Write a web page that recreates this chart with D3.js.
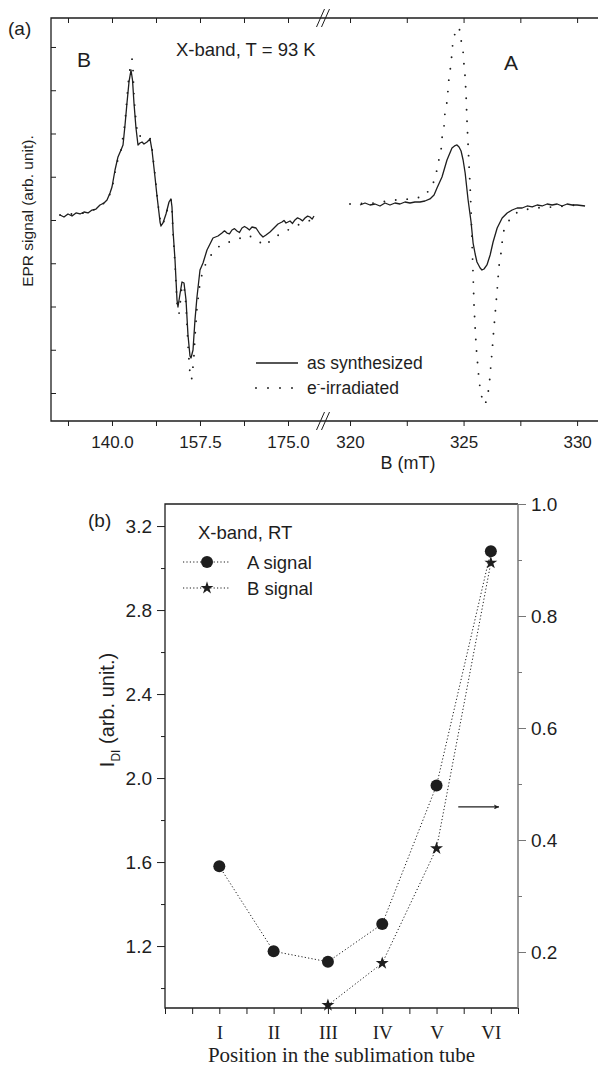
<!DOCTYPE html>
<html>
<head>
<meta charset="utf-8">
<script src="https://cdn.jsdelivr.net/npm/d3@7"></script>
<style>
  body { margin: 0; background: #fff; }
  svg { display: block; font-family: "Liberation Sans", Arial, sans-serif; }
</style>
</head>
<body>
<div id="chart"></div>
<script>
// ---- data: panel (a), EPR spectra (B in mT, signal in arb. units) ----
const fieldLoSynth = [129.66,130.45,131.25,132.05,132.84,133.64,134.43,135.23,136.02,136.82,137.61,138.41,139.01,139.60,140.00,140.60,141.19,141.79,142.19,142.59,142.98,143.38,143.78,144.08,144.37,144.77,145.17,145.57,145.97,146.36,146.96,147.56,147.95,148.55,148.95,149.35,149.55,149.74,150.14,150.74,151.34,151.73,151.93,152.13,152.53,152.93,153.12,153.52,153.92,154.32,154.72,155.11,155.51,155.71,156.11,156.50,156.90,157.50,158.10,158.89,159.49,160.08,161.08,161.87,162.37,162.87,163.36,163.86,164.36,164.86,165.35,165.85,166.35,166.85,167.34,167.84,168.64,169.43,170.03,170.63,171.42,172.22,173.01,173.81,174.20,174.60,175.40,175.90,176.39,176.90,177.39,177.90,178.38,178.90,179.37,179.80,180.17];
const signalLoSynth = [1.16,0.69,1.39,0.92,1.62,1.39,1.85,1.62,2.31,2.54,3.47,3.93,4.62,6.24,7.63,11.56,14.57,16.18,17.34,21.96,27.05,31.91,34.68,32.37,27.05,21.27,17.34,17.80,18.03,17.57,18.03,18.73,16.18,9.94,5.55,1.62,-0.46,-1.39,-0.69,1.39,4.16,4.86,3.01,-2.31,-9.25,-18.50,-20.11,-17.11,-14.33,-14.57,-18.50,-26.59,-31.44,-31.91,-30.06,-23.12,-17.80,-11.56,-9.94,-6.94,-5.55,-4.16,-3.70,-3.01,-2.50,-3.01,-3.20,-2.31,-2.00,-2.54,-2.90,-1.85,-1.50,-1.85,-2.30,-1.62,-1.85,-3.24,-3.93,-3.47,-2.77,-1.85,-0.92,-0.46,-0.10,-0.69,-0.23,-0.80,0.00,0.50,0.23,-0.20,0.46,0.90,0.69,0.20,0.92];

const fieldLoIrr = [129.66,131.25,132.84,134.43,136.02,137.61,139.01,140.00,140.60,141.19,141.79,142.59,142.98,143.38,143.78,143.98,144.18,144.37,144.77,145.17,145.57,145.97,146.36,146.96,147.56,147.95,148.55,148.95,149.35,149.74,150.14,150.74,151.34,151.73,151.93,152.13,152.53,152.93,153.32,153.72,153.92,154.32,154.72,155.11,155.51,155.71,155.91,156.31,156.50,156.90,157.50,158.10,159.09,160.48,161.87,164.06,167.04,168.83,170.43,172.02,175.00,177.39,180.17];
const signalLoIrr = [1.16,1.39,1.39,1.62,2.08,3.24,4.39,7.17,11.10,14.10,16.18,22.43,28.21,33.52,36.30,37.23,34.68,28.67,22.66,19.19,19.42,19.65,19.65,19.19,18.96,16.65,10.40,5.78,1.85,-1.16,-0.92,1.16,3.93,4.62,2.77,-2.77,-10.17,-19.19,-21.73,-17.57,-15.03,-15.26,-19.65,-28.90,-35.61,-37.00,-36.53,-31.21,-27.00,-20.30,-14.57,-11.56,-9.02,-6.94,-5.55,-4.86,-3.47,-4.62,-6.01,-4.16,-2.31,-0.92,0.23];

const fieldHiSynth = [320.44,320.66,320.88,321.10,321.32,321.54,321.76,321.98,322.20,322.42,322.64,322.86,323.08,323.30,323.52,323.70,323.83,324.05,324.27,324.49,324.63,324.71,324.80,324.89,324.98,325.07,325.20,325.33,325.42,325.51,325.59,325.73,325.81,325.90,326.03,326.17,326.30,326.48,326.70,326.92,327.14,327.36,327.58,327.80,328.02,328.24,328.46,328.68,328.90,329.12,329.34,329.56,329.78,330.00,330.35];
const signalHiSynth = [3.47,3.93,3.47,3.70,3.24,3.93,3.47,3.93,3.70,4.16,3.93,4.16,4.16,4.39,4.86,5.78,7.40,9.94,13.87,16.65,17.22,17.34,16.88,15.95,13.87,10.87,4.62,-0.46,-5.32,-7.86,-9.71,-11.10,-11.56,-11.33,-10.40,-8.09,-5.09,-1.85,0.46,1.62,2.31,2.77,2.77,3.24,3.01,3.47,3.24,3.70,3.47,3.70,3.24,3.70,3.47,3.47,3.24];

const fieldHiIrr = [320.00,321.10,321.89,322.33,322.78,323.22,323.61,323.79,323.88,324.01,324.05,324.14,324.18,324.27,324.32,324.36,324.45,324.49,324.54,324.67,324.76,324.85,324.89,324.98,325.02,325.07,325.11,325.15,325.20,325.24,325.29,325.33,325.37,325.42,325.46,325.51,325.55,325.59,325.64,325.68,325.77,325.86,325.95,326.03,326.12,326.17,326.21,326.26,326.30,326.39,326.48,326.56,326.65,326.70,326.78,326.92,327.14,327.49,328.06,328.94,330.00];
const signalHiIrr = [3.70,3.93,4.62,4.62,5.09,5.32,7.63,10.64,13.18,16.18,18.96,21.73,24.74,27.28,30.29,33.06,36.07,38.84,41.62,43.93,44.62,43.70,41.62,38.84,35.84,33.06,28.90,23.12,17.34,12.72,7.63,2.31,-4.62,-12.72,-19.65,-24.97,-28.67,-31.67,-34.22,-37.22,-40.00,-42.54,-42.54,-41.39,-38.61,-35.84,-33.06,-30.29,-27.28,-21.73,-16.18,-10.64,-7.63,-5.09,-2.31,-0.92,1.16,2.08,2.77,3.01,3.47];

const ticksLo = [131.25, 140, 148.75, 157.5, 166.25, 175];
const labelsLo = [140, 157.5, 175];
const ticksHi = [320, 322.5, 325, 327.5, 330];
const labelsHi = [320, 325, 330];
const ticksSignal = [-40, -30, -20, -10, 0, 10, 20, 30, 40];

// ---- data: panel (b), intensity vs position ----
const positions = ["I", "II", "III", "IV", "V", "VI"];
const aSignal = [1.58, 1.175, 1.125, 1.305, 1.965, 3.08];
const bPositions = ["III", "IV", "V", "VI"];
const bSignal = [0.105, 0.18, 0.385, 0.895];
const leftTicks = [1.0, 1.2, 1.4, 1.6, 1.8, 2.0, 2.2, 2.4, 2.6, 2.8, 3.0, 3.2];
const leftLabels = [1.2, 1.6, 2.0, 2.4, 2.8, 3.2];
const rightTicks = [0.2, 0.3, 0.4, 0.5, 0.6, 0.7, 0.8, 0.9, 1.0];
const rightLabels = [0.2, 0.4, 0.6, 0.8, 1.0];

const W = 598, H = 1068;
const ink = "#1e1e1e";
const svg = d3.select("#chart").append("svg").attr("width", W).attr("height", H);

// ================= panel (a) =================
const pa = { left: 51, right: 598, top: 18, bottom: 421, brk: 323 };
const xLo = d3.scaleLinear().domain([127.87, 181.96]).range([pa.left, pa.brk]);
const xHi = d3.scaleLinear().domain([318.81, 330.92]).range([pa.brk, pa.right]);
const ySig = d3.scaleLinear().domain([-46.47, 46.70]).range([pa.bottom, pa.top]);

const ga = svg.append("g");

const zip = (xs, ys) => xs.map((x, i) => [x, ys[i]]);
const lineLo = d3.line().x(d => xLo(d[0])).y(d => ySig(d[1]));
const lineHi = d3.line().x(d => xHi(d[0])).y(d => ySig(d[1]));

// e-irradiated (dotted)
[[lineLo, zip(fieldLoIrr, signalLoIrr)], [lineHi, zip(fieldHiIrr, signalHiIrr)]].forEach(([ln, data]) => {
  ga.append("path").datum(data)
    .attr("d", ln)
    .attr("fill", "none")
    .attr("stroke", ink)
    .attr("stroke-width", 1.9)
    .attr("stroke-linecap", "round")
    .attr("stroke-dasharray", "0 11.5");
});
// as synthesized (solid)
[[lineLo, zip(fieldLoSynth, signalLoSynth)], [lineHi, zip(fieldHiSynth, signalHiSynth)]].forEach(([ln, data]) => {
  ga.append("path").datum(data)
    .attr("d", ln)
    .attr("fill", "none")
    .attr("stroke", ink)
    .attr("stroke-width", 1.3)
    .attr("stroke-linejoin", "round");
});

// axes of panel (a)
const fmtLo = d => labelsLo.includes(d) ? d3.format(".1f")(d) : "";
const fmtHi = d => labelsHi.includes(d) ? d : "";

function styleAxis(g, size) {
  g.select(".domain").remove();
  g.selectAll(".tick line").attr("stroke", ink).attr("stroke-width", 1);
  g.selectAll(".tick text").attr("fill", ink).style("font-size", size + "px")
    .style("font-family", "\"Liberation Sans\", Arial, sans-serif");
}

ga.append("g").attr("transform", `translate(0,${pa.bottom})`)
  .call(d3.axisBottom(xLo).tickValues(ticksLo).tickFormat(fmtLo).tickSize(5).tickPadding(10))
  .call(g => styleAxis(g, 17));
ga.append("g").attr("transform", `translate(0,${pa.bottom})`)
  .call(d3.axisBottom(xHi).tickValues(ticksHi).tickFormat(fmtHi).tickSize(5).tickPadding(10))
  .call(g => styleAxis(g, 17));
ga.append("g").attr("transform", `translate(0,${pa.top})`)
  .call(d3.axisTop(xLo).tickValues(ticksLo).tickFormat("").tickSize(-5))
  .call(g => styleAxis(g, 17));
ga.append("g").attr("transform", `translate(0,${pa.top})`)
  .call(d3.axisTop(xHi).tickValues(ticksHi).tickFormat("").tickSize(-5))
  .call(g => styleAxis(g, 17));
ga.append("g").attr("transform", `translate(${pa.left},0)`)
  .call(d3.axisLeft(ySig).tickValues(ticksSignal).tickFormat("").tickSize(-5))
  .call(g => styleAxis(g, 17));

// frame
ga.append("path")
  .attr("d", `M${pa.right},${pa.top}H${pa.left}V${pa.bottom}H${pa.right}`)
  .attr("fill", "none").attr("stroke", ink).attr("stroke-width", 1.3);

// axis break marks
[pa.top, pa.bottom].forEach(yb => {
  [-2.5, 2.5].forEach(off => {
    ga.append("line")
      .attr("x1", pa.brk - 4 + off).attr("y1", yb + 9)
      .attr("x2", pa.brk + 4 + off).attr("y2", yb - 9)
      .attr("stroke", ink).attr("stroke-width", 1);
  });
});

// texts panel (a)
ga.append("text").attr("x", 8).attr("y", 35).attr("fill", ink).style("font-size", "19px").text("(a)");
ga.append("text").attr("x", 77).attr("y", 67).attr("fill", ink).style("font-size", "21px").text("B");
ga.append("text").attr("x", 504).attr("y", 70).attr("fill", ink).style("font-size", "21px").text("A");
ga.append("text").attr("x", 176).attr("y", 56).attr("fill", ink).style("font-size", "18.5px").text("X-band, T = 93 K");
ga.append("text")
  .attr("transform", `translate(33,211) rotate(-90)`)
  .attr("text-anchor", "middle").attr("fill", ink).style("font-size", "15.5px")
  .text("EPR signal (arb. unit).");
ga.append("text").attr("x", 408).attr("y", 469)
  .attr("text-anchor", "middle").attr("fill", ink).style("font-size", "18px").text("B (mT)");

// legend panel (a)
const lgA = ga.append("g");
lgA.append("line").attr("x1", 256).attr("x2", 298).attr("y1", 363).attr("y2", 363)
  .attr("stroke", ink).attr("stroke-width", 1.3);
lgA.append("text").attr("x", 307).attr("y", 369).attr("fill", ink).style("font-size", "17.5px").text("as synthesized");
lgA.append("line").attr("x1", 256).attr("x2", 298).attr("y1", 388).attr("y2", 388)
  .attr("stroke", ink).attr("stroke-width", 1.9).attr("stroke-linecap", "round").attr("stroke-dasharray", "0 12");
const irrText = lgA.append("text").attr("x", 307).attr("y", 394).attr("fill", ink).style("font-size", "17.5px");
irrText.append("tspan").text("e");
irrText.append("tspan").attr("dy", -7).style("font-size", "10px").text("-");
irrText.append("tspan").attr("dy", 7).text("-irradiated");

// ================= panel (b) =================
const pb = { left: 165, right: 518, top: 504, bottom: 1008 };
const xPos = d3.scaleLinear().domain([0, 6.5]).range([pb.left, pb.right]);
const posIndex = p => positions.indexOf(p) + 1;
const yLeft = d3.scaleLinear().domain([0.905, 3.305]).range([pb.bottom, pb.top]);
const yRight = d3.scaleLinear().domain([0.1, 1.0]).range([pb.bottom, pb.top]);

const gb = svg.append("g");

// frame: left, top, bottom dark; right grey
gb.append("path")
  .attr("d", `M${pb.right},${pb.top}H${pb.left}V${pb.bottom}H${pb.right}`)
  .attr("fill", "none").attr("stroke", ink).attr("stroke-width", 1.3);
gb.append("line").attr("x1", pb.right).attr("x2", pb.right).attr("y1", pb.top).attr("y2", pb.bottom)
  .attr("stroke", "#777").attr("stroke-width", 1.5);

// x axis
const xTicks = d3.range(0, 6.51, 0.5);
gb.append("g").attr("transform", `translate(0,${pb.bottom})`)
  .call(d3.axisBottom(xPos).tickValues(xTicks).tickSize(6).tickPadding(12)
    .tickFormat(d => Number.isInteger(d) && d >= 1 ? positions[d - 1] : ""))
  .call(g => {
    g.select(".domain").remove();
    g.selectAll(".tick line").attr("stroke", ink);
    g.selectAll(".tick text").attr("fill", ink).style("font-size", "19px")
      .style("font-family", "\"Liberation Serif\", \"Times New Roman\", serif");
  });

// left y axis
const gl = gb.append("g").attr("transform", `translate(${pb.left},0)`)
  .call(d3.axisLeft(yLeft).tickValues(leftTicks).tickSize(8).tickPadding(5)
    .tickFormat(d => leftLabels.some(v => Math.abs(v - d) < 1e-6) ? d3.format(".1f")(d) : ""))
  .call(g => styleAxis(g, 19));
gl.selectAll(".tick line").attr("x2", d => leftLabels.some(v => Math.abs(v - d) < 1e-6) ? -8 : -4);

// right y axis
const gr = gb.append("g").attr("transform", `translate(${pb.right},0)`)
  .call(d3.axisRight(yRight).tickValues(rightTicks).tickSize(8).tickPadding(5)
    .tickFormat(d => rightLabels.some(v => Math.abs(v - d) < 1e-6) ? d3.format(".1f")(d) : ""))
  .call(g => styleAxis(g, 19));
gr.selectAll(".tick line").attr("stroke", "#777")
  .attr("x2", d => rightLabels.some(v => Math.abs(v - d) < 1e-6) ? 8 : 4);

// dotted connecting lines
const aPts = positions.map((p, i) => [posIndex(p), aSignal[i]]);
const bPts = bPositions.map((p, i) => [posIndex(p), bSignal[i]]);
gb.append("path").datum(aPts)
  .attr("d", d3.line().x(d => xPos(d[0])).y(d => yLeft(d[1])))
  .attr("fill", "none").attr("stroke", ink).attr("stroke-width", 1).attr("stroke-dasharray", "1.2 2.2");
gb.append("path").datum(bPts)
  .attr("d", d3.line().x(d => xPos(d[0])).y(d => yRight(d[1])))
  .attr("fill", "none").attr("stroke", ink).attr("stroke-width", 1).attr("stroke-dasharray", "1.2 2.2");

// markers
const star = d3.symbol().type(d3.symbolStar).size(52);
gb.selectAll(".a-dot").data(aPts).enter().append("circle")
  .attr("class", "a-dot")
  .attr("cx", d => xPos(d[0])).attr("cy", d => yLeft(d[1])).attr("r", 6).attr("fill", ink);
gb.selectAll(".b-star").data(bPts).enter().append("path")
  .attr("class", "b-star")
  .attr("d", star)
  .attr("transform", d => `translate(${xPos(d[0])},${yRight(d[1])})`).attr("fill", ink);

// arrow towards the right axis
svg.append("defs").append("marker")
  .attr("id", "arrowhead").attr("viewBox", "0 0 10 10").attr("refX", 10).attr("refY", 5)
  .attr("markerWidth", 9).attr("markerHeight", 5).attr("orient", "auto").attr("markerUnits", "userSpaceOnUse")
  .append("path").attr("d", "M0,0L10,5L0,10L2,5Z").attr("fill", ink);
gb.append("line")
  .attr("x1", xPos(5.4)).attr("x2", xPos(6.15))
  .attr("y1", yRight(0.459)).attr("y2", yRight(0.459))
  .attr("stroke", ink).attr("stroke-width", 1.2).attr("marker-end", "url(#arrowhead)");

// texts panel (b)
gb.append("text").attr("x", 88).attr("y", 527).attr("fill", ink).style("font-size", "19px").text("(b)");
gb.append("text").attr("x", 198).attr("y", 539).attr("fill", ink).style("font-size", "18.5px").text("X-band, RT");

const lgB = gb.append("g");
[["A signal", 562, "circle"], ["B signal", 588, "star"]].forEach(([label, ly, kind]) => {
  lgB.append("line").attr("x1", 183).attr("x2", 230).attr("y1", ly).attr("y2", ly)
    .attr("stroke", ink).attr("stroke-width", 1).attr("stroke-dasharray", "1.2 2.2");
  if (kind === "circle") {
    lgB.append("circle").attr("cx", 207).attr("cy", ly).attr("r", 6).attr("fill", ink);
  } else {
    lgB.append("path").attr("d", star).attr("transform", `translate(207,${ly})`).attr("fill", ink);
  }
  lgB.append("text").attr("x", 247).attr("y", ly + 6.5).attr("fill", ink).style("font-size", "18.5px").text(label);
});

const yLab = gb.append("text")
  .attr("transform", "translate(114,710) rotate(-90)")
  .attr("text-anchor", "middle").attr("fill", ink).style("font-size", "20px");
yLab.append("tspan").text("I");
yLab.append("tspan").attr("dy", 6).style("font-size", "12px").text("DI");
yLab.append("tspan").attr("dy", -6).text(" (arb. unit.)");

gb.append("text").attr("x", (pb.left + pb.right) / 2).attr("y", 1062)
  .attr("text-anchor", "middle").attr("fill", ink)
  .style("font-family", "\"Liberation Serif\", \"Times New Roman\", serif").style("font-size", "21px")
  .text("Position in the sublimation tube");
</script>
</body>
</html>
